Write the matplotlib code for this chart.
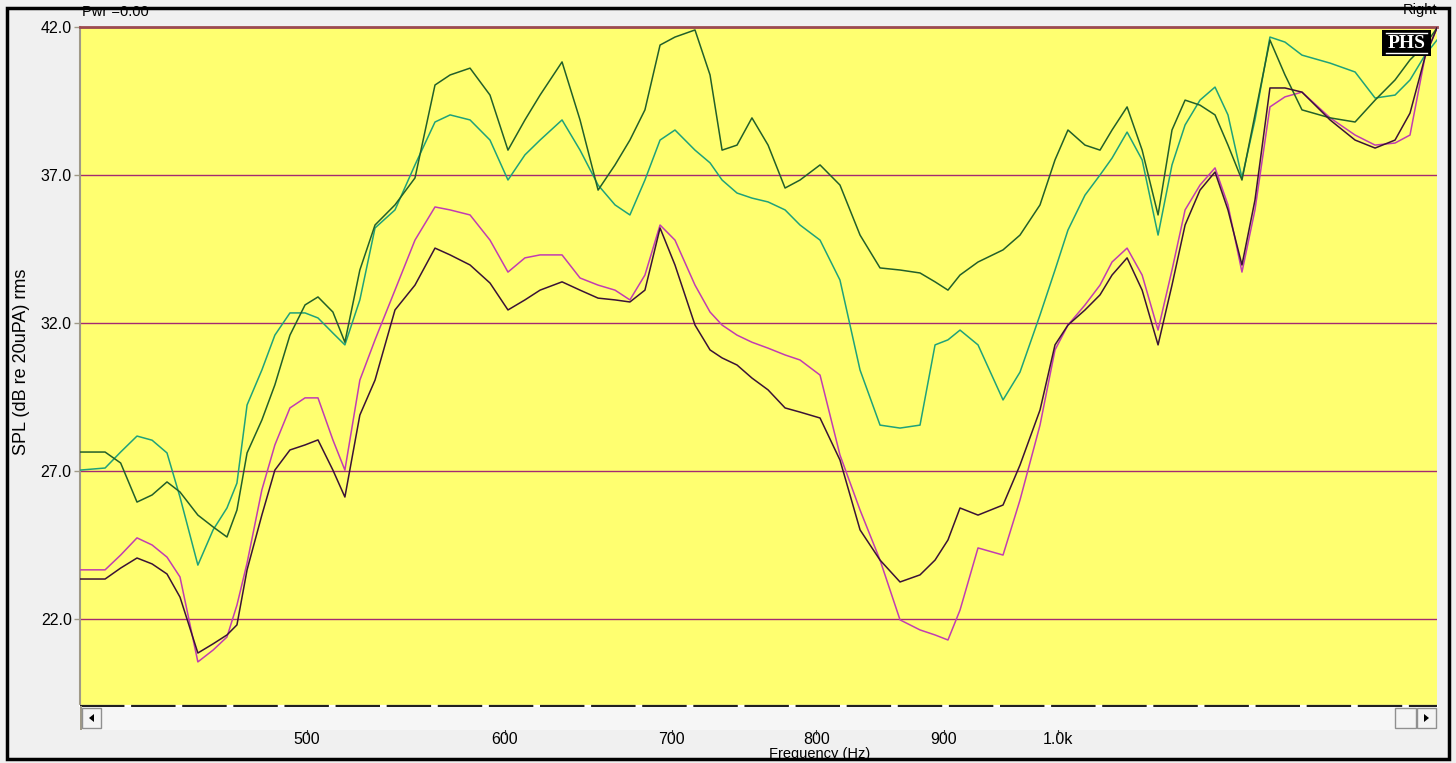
import numpy as np
import matplotlib
matplotlib.use("Agg")
import matplotlib.pyplot as plt
from matplotlib.patches import Rectangle, Polygon
import matplotlib.transforms as mtransforms

plt.rcParams['font.family'] = ['Liberation Sans', 'DejaVu Sans']

# ---- data (frequency grid in Hz, SPL in dB) ----
freq = [405.5, 415.0, 421.0, 427.4, 433.4, 439.4, 444.7, 452.1, 458.5, 464.4,
        468.7, 473.1, 479.6, 485.4, 492.2, 499.1, 505.1, 512.1, 517.8, 525.0,
        532.4, 542.3, 552.4, 562.7, 570.6, 581.2, 592.0, 601.9, 611.4, 620.0,
        632.7, 643.3, 654.1, 664.4, 673.6, 683.0, 692.6, 702.2, 715.3, 725.3,
        733.4, 743.6, 753.9, 765.2, 777.3, 788.1, 802.8, 817.7, 833.0, 848.5,
        864.3, 880.4, 892.7, 903.4, 913.5, 928.8, 950.5, 965.5, 983.5, 997.2,
        1009.2, 1025.2, 1039.5, 1051.1, 1065.8, 1080.7, 1096.7, 1110.9, 1124.4, 1140.0,
        1155.9, 1169.8, 1185.0, 1199.3, 1216.0, 1233.0, 1252.5, 1285.4, 1315.4, 1339.9,
        1364.8, 1383.8, 1403.1, 1418.7]

dark_green = [27.64, 27.64, 27.27, 25.95, 26.19, 26.63, 26.29, 25.51, 25.11, 24.77,
              25.68, 27.61, 28.72, 29.91, 31.59, 32.61, 32.88, 32.37, 31.35, 33.79,
              35.31, 35.99, 36.90, 40.04, 40.38, 40.61, 39.70, 37.84, 38.86, 39.70,
              40.82, 38.86, 36.49, 37.34, 38.18, 39.20, 41.39, 41.66, 41.90, 40.38,
              37.84, 38.01, 38.93, 38.01, 36.56, 36.83, 37.34, 36.66, 34.97, 33.86,
              33.79, 33.69, 33.39, 33.11, 33.62, 34.06, 34.47, 34.97, 35.99, 37.51,
              38.52, 38.01, 37.84, 38.52, 39.30, 37.84, 35.65, 38.52, 39.53, 39.36,
              39.03, 38.01, 36.83, 39.03, 41.56, 40.38, 39.20, 38.93, 38.79, 39.53,
              40.21, 40.89, 41.39, 41.97]

teal = [27.03, 27.10, 27.64, 28.18, 28.04, 27.61, 26.12, 23.82, 25.01, 25.75,
        26.59, 29.23, 30.41, 31.59, 32.34, 32.34, 32.17, 31.66, 31.26, 32.78,
        35.21, 35.82, 37.34, 38.79, 39.03, 38.86, 38.18, 36.83, 37.68, 38.18,
        38.86, 37.84, 36.66, 35.99, 35.65, 36.83, 38.18, 38.52, 37.84, 37.41,
        36.83, 36.39, 36.22, 36.09, 35.82, 35.31, 34.80, 33.45, 30.41, 28.55,
        28.45, 28.55, 31.26, 31.43, 31.76, 31.26, 29.40, 30.34, 32.27, 33.79,
        35.14, 36.32, 37.00, 37.57, 38.45, 37.51, 34.97, 37.34, 38.69, 39.53,
        39.97, 39.03, 36.90, 38.86, 41.66, 41.49, 41.05, 40.78, 40.48, 39.60,
        39.70, 40.21, 41.05, 41.56]

magenta = [23.66, 23.66, 24.16, 24.74, 24.50, 24.09, 23.42, 20.55, 20.95, 21.39,
           22.47, 23.89, 26.36, 27.88, 29.13, 29.47, 29.47, 28.05, 27.03, 30.07,
           31.43, 33.11, 34.80, 35.92, 35.82, 35.65, 34.80, 33.72, 34.20, 34.30,
           34.30, 33.52, 33.28, 33.11, 32.78, 33.62, 35.31, 34.80, 33.28, 32.37,
           31.93, 31.59, 31.35, 31.15, 30.92, 30.75, 30.24, 27.54, 25.68, 23.99,
           21.97, 21.63, 21.46, 21.29, 22.30, 24.40, 24.16, 26.02, 28.55, 31.09,
           31.93, 32.61, 33.28, 34.06, 34.53, 33.62, 31.76, 33.79, 35.82, 36.66,
           37.24, 35.99, 33.72, 35.82, 39.30, 39.64, 39.80, 38.93, 38.35, 38.01,
           38.08, 38.35, 40.99, 41.97]

purple = [23.35, 23.35, 23.72, 24.06, 23.86, 23.52, 22.74, 20.85, 21.16, 21.46,
          21.80, 23.66, 25.51, 27.03, 27.71, 27.88, 28.05, 27.03, 26.12, 28.89,
          30.07, 32.44, 33.28, 34.53, 34.30, 33.96, 33.35, 32.44, 32.78, 33.11,
          33.39, 33.11, 32.84, 32.78, 32.71, 33.11, 35.21, 33.96, 31.93, 31.09,
          30.82, 30.58, 30.14, 29.74, 29.13, 28.99, 28.79, 27.37, 25.01, 23.99,
          23.25, 23.49, 23.99, 24.67, 25.75, 25.51, 25.85, 27.20, 29.06, 31.26,
          31.93, 32.44, 32.95, 33.62, 34.20, 33.11, 31.26, 33.28, 35.31, 36.49,
          37.10, 35.82, 33.96, 36.15, 39.94, 39.94, 39.80, 38.86, 38.18, 37.91,
          38.18, 39.09, 40.99, 41.97]

x_ticks = [500, 600, 700, 800, 900, 1000]
x_tick_labels = ['500', '600', '700', '800', '900', '1.0k']
y_ticks = [22.0, 27.0, 32.0, 37.0, 42.0]
y_tick_labels = ['22.0', '27.0', '32.0', '37.0', '42.0']

# ---- figure ----
W, H = 1456, 763
fig = plt.figure(figsize=(W / 100, H / 100), dpi=100, facecolor='#f0f0f0')

def fx(px):
    return px / W

def fy(py):
    return 1 - py / H

TICK_FS = 11.5
FS = 10.5

ax_l, ax_r, ax_t, ax_b = 80, 1437, 27, 706
ax = fig.add_axes([fx(ax_l), fy(ax_b), fx(ax_r - ax_l), (ax_b - ax_t) / H])
ax.set_facecolor('#ffff70')
ax.set_xscale('log')
ax.set_xlim(405.5, 1418.7)
ax.set_ylim(19.06, 42.0)

for yv in y_ticks:
    ax.axhline(yv, color='#a42a72', lw=1.0, zorder=1)

lw = 1.1
ax.plot(freq, teal, color='#1fa27a', lw=lw, zorder=3, solid_joinstyle='round')
ax.plot(freq, dark_green, color='#22602a', lw=lw, zorder=4, solid_joinstyle='round')
ax.plot(freq, magenta, color='#c23cb2', lw=lw, zorder=3, solid_joinstyle='round')
ax.plot(freq, purple, color='#3a1236', lw=lw, zorder=4, solid_joinstyle='round')

# spines
for s in ['right', 'bottom']:
    ax.spines[s].set_visible(False)
ax.spines['top'].set_color('#9c4a50')
ax.spines['top'].set_linewidth(2.0)
ax.spines['left'].set_color('#a09a88')
ax.spines['left'].set_linewidth(1.5)

# bottom dashed edge
ax.plot([0, 1], [0, 0], transform=ax.transAxes, color='white', lw=1.6, clip_on=False, zorder=5)
ax.plot([0, 1], [0, 0], transform=ax.transAxes, color='#202020', lw=1.6,
        linestyle=(0, (20, 3)), clip_on=False, zorder=6)

# ticks
ax.set_yticks(y_ticks)
ax.set_yticklabels(y_tick_labels)
ax.tick_params(axis='y', length=4.5, width=1, color='#a09a88', pad=1.5, labelsize=TICK_FS)
ax.set_xticks(x_ticks)
ax.set_xticklabels(x_tick_labels)
ax.xaxis.set_minor_locator(matplotlib.ticker.NullLocator())
ax.tick_params(axis='x', length=0, pad=18.5, labelsize=TICK_FS)
blend = mtransforms.blended_transform_factory(ax.transData, ax.transAxes)
for xv in x_ticks:
    ax.plot([xv, xv], [-0.036, -0.041], transform=blend, color='#303030', lw=0.8, clip_on=False)

fig.text(fx(22), fy(362), 'SPL (dB re 20uPA) rms', fontsize=13.0, rotation=90,
         ha='center', va='center')

# scrollbar
fig.patches.append(Rectangle((fx(81), fy(730)), fx(1437 - 81), (730 - 707) / H,
                             transform=fig.transFigure, facecolor='#f6f6f6', edgecolor='none', zorder=0))
fig.patches.append(Rectangle((fx(80), fy(730)), fx(1.5), (730 - 706) / H,
                             transform=fig.transFigure, facecolor='#a09a88', edgecolor='none', zorder=1))
for (x0, x1) in [(82, 101), (1395, 1416), (1417, 1436)]:
    fig.patches.append(Rectangle((fx(x0), fy(728)), fx(x1 - x0), (728 - 708) / H,
                                 transform=fig.transFigure, facecolor='#f4f4f4',
                                 edgecolor='#909090', lw=1.0, zorder=2))
fig.patches.append(Polygon([[fx(89), fy(718)], [fx(94), fy(714)], [fx(94), fy(722)]],
                           closed=True, transform=fig.transFigure, facecolor='black', zorder=3))
fig.patches.append(Polygon([[fx(1429), fy(718)], [fx(1424), fy(714)], [fx(1424), fy(722)]],
                           closed=True, transform=fig.transFigure, facecolor='black', zorder=3))

# texts
fig.text(fx(82), fy(12), 'Pwr =0.00', fontsize=FS, ha='left', va='center')
fig.text(fx(1437), fy(10), 'Right', fontsize=FS, ha='right', va='center')
fig.text(fx(820), fy(754), 'Frequency (Hz)', fontsize=FS, ha='center', va='center')

# PHS logo
fig.patches.append(Rectangle((fx(1382), fy(56)), fx(1431 - 1382), (56 - 30) / H,
                             transform=fig.transFigure, facecolor='black', edgecolor='none', zorder=10))
fig.text(fx(1406.5), fy(43), 'PHS', fontsize=14, fontweight='bold', color='white',
         family=['Liberation Serif', 'DejaVu Serif'], ha='center', va='center', zorder=11)
for yy in (33, 53):
    fig.lines.append(plt.Line2D([fx(1386), fx(1427)], [fy(yy), fy(yy)], transform=fig.transFigure,
                                color='white', lw=1.0, zorder=12))

# outer black frame
fig.patches.append(Rectangle((fx(7), fy(759)), fx(1449 - 7), (759 - 8) / H,
                             transform=fig.transFigure, facecolor='none', edgecolor='black',
                             lw=2.5, zorder=20))

fig.savefig('out.png', dpi=100, facecolor=fig.get_facecolor())
